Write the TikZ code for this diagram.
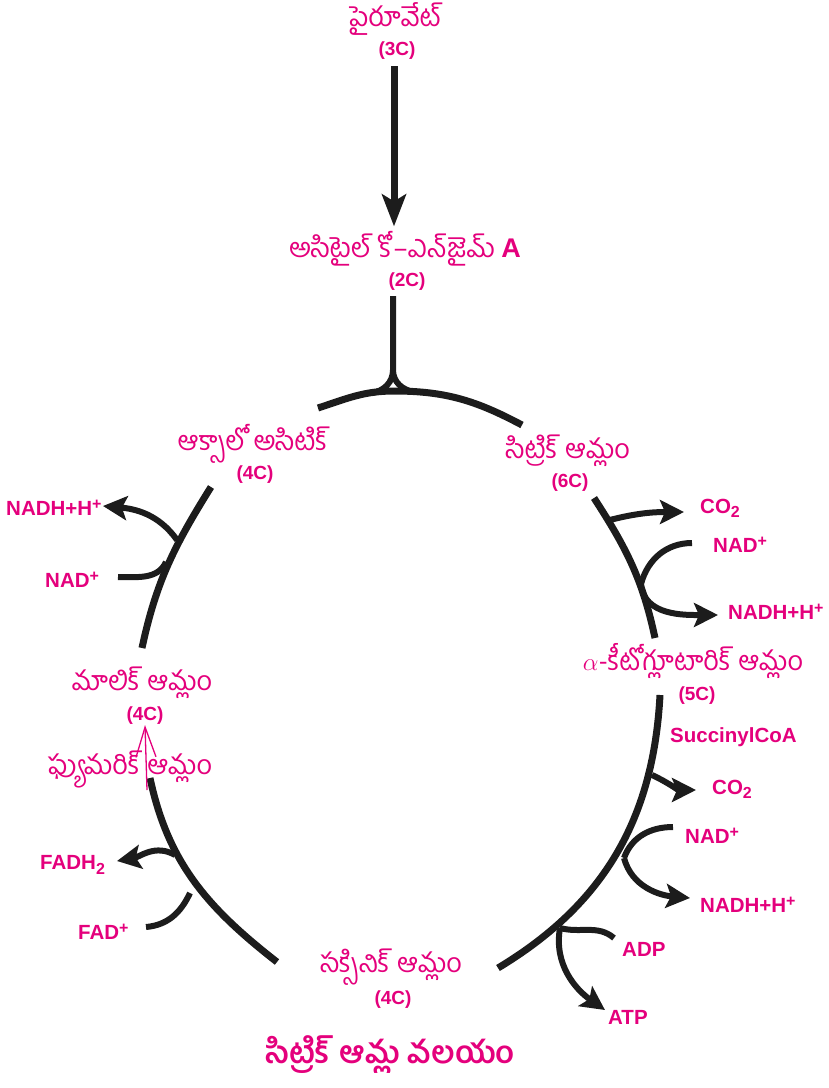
\documentclass[tikz,border=0pt]{standalone}
\usepackage{fontspec}
\usepackage{tikz}
\usetikzlibrary{arrows.meta}
\newfontfamily\telugu[Script=Telugu]{Hind Guntur}
\newfontfamily\labfont{Liberation Sans}
\definecolor{Magenta}{HTML}{E4007C}
\definecolor{Ink}{HTML}{1C1C1C}
\newcommand\chplus{\raisebox{0.55ex}{\fontsize{16}{16}\selectfont +}}
\newcommand\chtwo{\raisebox{-0.4ex}{\fontsize{16}{16}\selectfont 2}}

\begin{document}
\begin{tikzpicture}[x=1pt,y=1pt,
  tel/.style={text=Magenta,font=\telugu\fontsize{27}{29}\selectfont,inner sep=0pt},
  cnum/.style={text=Magenta,font=\labfont\bfseries\fontsize{19}{21}\selectfont,inner sep=0pt},
  mol/.style={text=Magenta,font=\labfont\bfseries\fontsize{20.5}{22}\selectfont,inner sep=0pt},
  cyc/.style={draw=Ink,line width=7pt},
  side/.style={draw=Ink,line width=6pt},
  sidearrow/.style={side,-{Stealth[length=24pt,width=24pt,inset=5pt]}},
  thinarrow/.style={draw=Magenta,line width=1.3pt,-{Straight Barb[length=30pt,width=20pt]}}
]
  \useasboundingbox (0,0) rectangle (829,-1088);

  % names of the compounds
  \node[tel] (pyr) at (395,-19) {పైరూవేట్};
  \node[cnum] (c3) at (397,-51) {(3C)};
  \node[tel] (acetyl) at (405,-249) {అసిటైల్ కో–ఎన్‌జైమ్ {\labfont\bfseries A}};
  \node[cnum] (c2) at (407,-282) {(2C)};
  \node[tel] (oxalo) at (253,-444) {ఆక్సాలో అసిటిక్};
  \node[cnum] (c4a) at (255,-475) {(4C)};
  \node[tel] (citric) at (568,-451) {సిట్రిక్ ఆమ్లం};
  \node[cnum] (c6) at (570,-483) {(6C)};
  \node[tel] (akg) at (693,-661) {$\alpha$-కీటోగ్లూటారిక్ ఆమ్లం};
  \node[cnum] (c5) at (697,-696) {(5C)};
  \node[mol,anchor=west] (succoa) at (670,-737) {SuccinylCoA};
  \node[tel] (succ) at (391,-967) {సక్సినిక్ ఆమ్లం};
  \node[cnum] (c4c) at (393,-1000) {(4C)};
  \node[tel] (fum) at (130,-769) {ఫ్యుమరిక్ ఆమ్లం};
  \node[tel] (malic) at (142,-683) {మాలిక్ ఆమ్లం};
  \node[cnum] (c4b) at (145,-716) {(4C)};
  \node[text=Magenta,font=\telugu\bfseries\fontsize{31}{34}\selectfont] (title) at (391,-1055) {సిట్రిక్ ఆమ్ల వలయం};

  % side products
  \node[mol,anchor=west] (co2a) at (700,-508) {CO\chtwo};
  \node[mol,anchor=west] (nada) at (713,-545) {NAD\chplus};
  \node[mol,anchor=west] (nadha) at (728,-612) {NADH+H\chplus};
  \node[mol,anchor=west] (co2b) at (712,-789) {CO\chtwo};
  \node[mol,anchor=west] (nadb) at (685,-836) {NAD\chplus};
  \node[mol,anchor=west] (nadhb) at (700,-905) {NADH+H\chplus};
  \node[mol,anchor=west] (adp) at (622,-949) {ADP};
  \node[mol,anchor=west] (atp) at (608,-1017) {ATP};
  \node[mol,anchor=west] (nadhl) at (6,-508) {NADH+H\chplus};
  \node[mol,anchor=west] (nadl) at (45,-580) {NAD\chplus};
  \node[mol,anchor=west] (fadh) at (40,-865) {FADH\chtwo};
  \node[mol,anchor=west] (fad) at (78,-932) {FAD\chplus};

  % points on the cycle
  \coordinate (t1) at (318,-408); \coordinate (tt) at (394,-391); \coordinate (t2) at (522,-425);
  \coordinate (jn) at (393,-370);
  \coordinate (r1) at (594,-498); \coordinate (r2) at (655,-638);
  \coordinate (r3) at (660,-695); \coordinate (r4) at (498,-968);
  \coordinate (l1) at (277,-962); \coordinate (l2) at (150,-778);
  \coordinate (u1) at (142,-648); \coordinate (u2) at (211,-487);

  % branch ends
  \coordinate (co2aS) at (606,-521); \coordinate (co2aE) at (684,-512);
  \coordinate (nadaS) at (692,-543); \coordinate (nadaJ) at (641,-584);
  \coordinate (nadhaE) at (718,-615);
  \coordinate (co2bS) at (652,-775); \coordinate (co2bE) at (696,-790);
  \coordinate (nadbS) at (673,-827); \coordinate (nadbJ) at (624,-858);
  \coordinate (nadhbE) at (690,-898);
  \coordinate (adpS) at (614,-938); \coordinate (adpJ) at (560,-928);
  \coordinate (atpE) at (605,-1010);
  \coordinate (fadS) at (146,-927); \coordinate (fadJ) at (190,-893);
  \coordinate (fadhS) at (175,-855); \coordinate (fadhE) at (117,-861);
  \coordinate (nadlS) at (118,-577); \coordinate (nadlJ) at (166,-562);
  \coordinate (nadhlS) at (177,-540); \coordinate (nadhlE) at (103,-506);
  \coordinate (fumtail) at (147,-790);

  \draw[draw=Ink,line width=7pt,-{Stealth[length=32pt,width=24pt,inset=7pt]}] ([xshift=-3pt,yshift=-6pt]c3.south) -- ([xshift=-3pt,yshift=5pt]c3.south |- acetyl.north);
  \draw[side] ([xshift=-14pt,yshift=-5pt]c2.south) -- (jn) to[out=-90,in=170] (414,-392);
  \draw[side] (jn) to[out=-90,in=10] (372,-393);

  \draw[cyc] (t1) to[out=18,in=180] (tt) to[out=0,in=152] (t2);
  \draw[cyc] (r1) to[out=-57,in=102] (r2);
  \draw[cyc] (r3) to[out=-93,in=31] (r4);
  \draw[cyc] (l1) to[out=142,in=-78] (l2);
  \draw[cyc] (u1) to[out=78,in=-122] (u2);

  \draw[sidearrow] (co2aS) to[out=15,in=180] (co2aE);
  \draw[side] (nadaS) to[out=180,in=75] (nadaJ);
  \draw[sidearrow] (nadaJ) to[out=-85,in=180] (nadhaE);
  \draw[sidearrow] (co2bS) to[out=-25,in=180] (co2bE);
  \draw[side] (nadbS) to[out=180,in=70] (nadbJ);
  \draw[sidearrow] (nadbJ) to[out=-75,in=175] (nadhbE);
  \draw[side] (adpS) to[out=140,in=-15] (adpJ);
  \draw[sidearrow] (adpJ) to[out=-100,in=145] (atpE);
  \draw[side] (fadS) to[out=5,in=-115] (fadJ);
  \draw[sidearrow] (fadhS) to[out=150,in=10] (fadhE);
  \draw[side] (nadlS) to[out=0,in=-115] (nadlJ);
  \draw[sidearrow] (nadhlS) to[out=125,in=-5] (nadhlE);

  \draw[thinarrow] (fumtail) -- (c4b.south);
\end{tikzpicture}
\end{document}
